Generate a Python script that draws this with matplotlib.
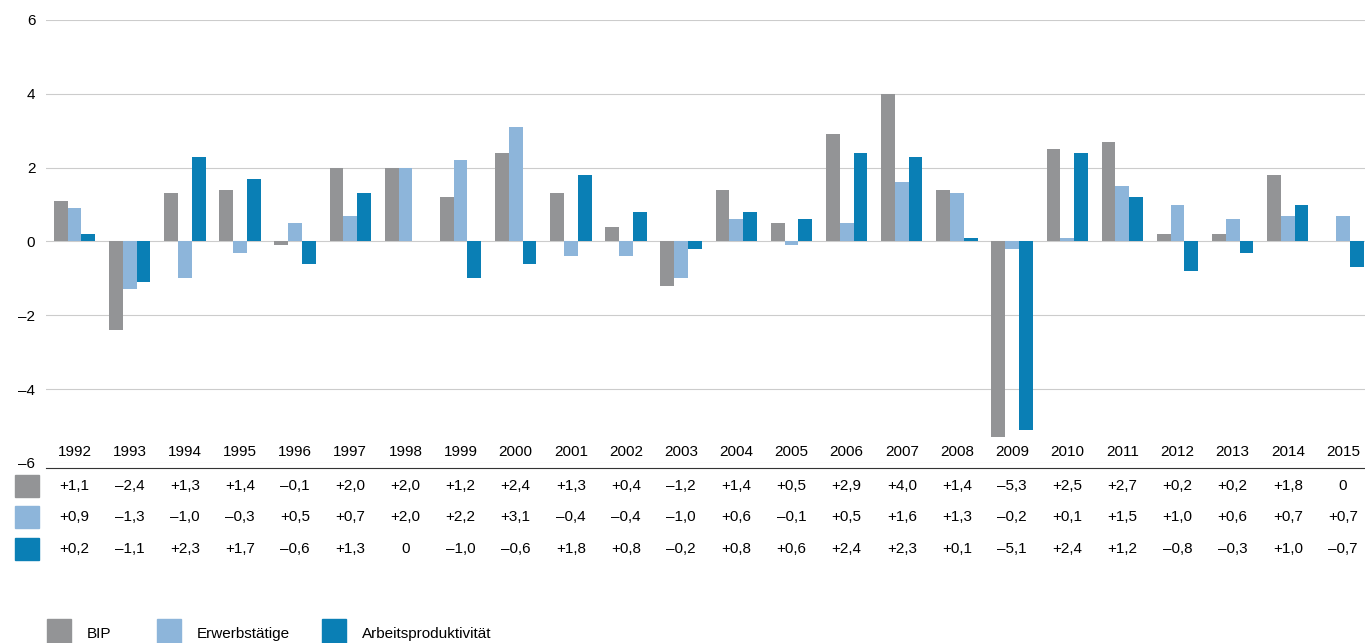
import matplotlib.pyplot as plt
import numpy as np

plt.rcParams['font.family'] = ['Liberation Sans', 'DejaVu Sans']

years = list(range(1992, 2016))
bip = [1.1, -2.4, 1.3, 1.4, -0.1, 2.0, 2.0, 1.2, 2.4, 1.3, 0.4, -1.2, 1.4, 0.5, 2.9, 4.0, 1.4, -5.3, 2.5, 2.7, 0.2, 0.2, 1.8, 0.0]
erwerb = [0.9, -1.3, -1.0, -0.3, 0.5, 0.7, 2.0, 2.2, 3.1, -0.4, -0.4, -1.0, 0.6, -0.1, 0.5, 1.6, 1.3, -0.2, 0.1, 1.5, 1.0, 0.6, 0.7, 0.7]
prod = [0.2, -1.1, 2.3, 1.7, -0.6, 1.3, 0.0, -1.0, -0.6, 1.8, 0.8, -0.2, 0.8, 0.6, 2.4, 2.3, 0.1, -5.1, 2.4, 1.2, -0.8, -0.3, 1.0, -0.7]
labels = ['BIP', 'Erwerbstätige', 'Arbeitsproduktivität']
colors = ['#939496', '#8db5da', '#0a7fb5']
series = [bip, erwerb, prod]

def fmt(v):
    if v == 0:
        return '0'
    s = f'{abs(v):.1f}'.replace('.', ',')
    return ('+' if v > 0 else '\u2013') + s

fig = plt.figure(figsize=(13.65, 6.43), dpi=100)
ax = fig.add_axes([0.034, 0.28, 0.966, 0.689])
x = np.arange(len(years))
w = 0.25
for i, (s, c) in enumerate(zip(series, colors)):
    ax.bar(x + (i - 1) * w, s, w, color=c, zorder=3)
ax.set_ylim(-6, 6)
ax.set_xlim(-0.51, 23.40)
ax.set_yticks([-6, -4, -2, 0, 2, 4, 6])
ax.set_yticklabels(['\u20136', '\u20134', '\u20132', '0', '2', '4', '6'])
ax.yaxis.grid(True, color='#cccccc', lw=0.8, zorder=0)
ax.set_xticks([])
ax.tick_params(axis='y', length=0, labelsize=11, pad=8)
for sp in ax.spines.values():
    sp.set_visible(False)

# table below
def fx(i):
    return ax.transData.transform((i, 0))[0] / fig.bbox.width
fig.canvas.draw()
for i, yr in enumerate(years):
    fig.text(fx(i), 1 - 452 / 643, str(yr), ha='center', va='center', fontsize=11)
fig.add_artist(plt.Line2D([0.034, 1.0], [1 - 468 / 643] * 2, color='#333333', lw=0.8))
rows_y = [486, 517, 549]
for r, (s, c) in enumerate(zip(series, colors)):
    yy = 1 - rows_y[r] / 643
    fig.add_artist(plt.Rectangle((15 / 1365, yy - 11 / 643), 24 / 1365, 22 / 643, color=c))
    for i, v in enumerate(s):
        fig.text(fx(i), yy, fmt(v), ha='center', va='center', fontsize=11)

lx = [47, 157, 322]
for lbl, c, xx in zip(labels, colors, lx):
    fig.add_artist(plt.Rectangle((xx / 1365, 0), 24 / 1365, 24 / 643, color=c))
    fig.text((xx + 40) / 1365, 1 - 634 / 643, lbl, ha='left', va='center', fontsize=11)

fig.savefig('out.png', dpi=100)
